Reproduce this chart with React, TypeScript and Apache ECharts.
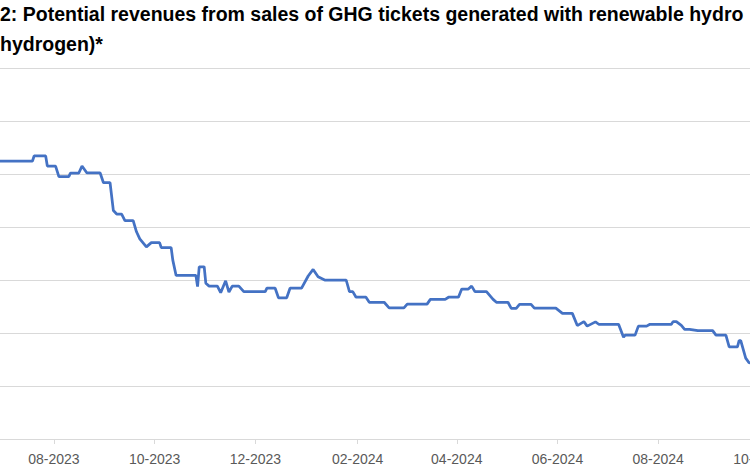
import React, { useEffect, useRef } from 'react';
import * as echarts from 'echarts';

const titleLines = [
  '2: Potential revenues from sales of GHG tickets generated with renewable hydro',
  'hydrogen)*',
];

const tickMonths = [
  '2023-08-01', '2023-10-01', '2023-12-01', '2024-02-01',
  '2024-04-01', '2024-06-01', '2024-08-01', '2024-10-01',
];

const dates = [
  '2023-06-29', '2023-07-19', '2023-07-20', '2023-07-27', '2023-07-28', '2023-08-02',
  '2023-08-04', '2023-08-10', '2023-08-11', '2023-08-16', '2023-08-18', '2023-08-21',
  '2023-08-29', '2023-08-31', '2023-09-04', '2023-09-06', '2023-09-08', '2023-09-11',
  '2023-09-13', '2023-09-18', '2023-09-20', '2023-09-22', '2023-09-26', '2023-09-29',
  '2023-10-04', '2023-10-05', '2023-10-11', '2023-10-12', '2023-10-14', '2023-10-26',
  '2023-10-27', '2023-10-28', '2023-10-31', '2023-11-01', '2023-11-03', '2023-11-08',
  '2023-11-10', '2023-11-13', '2023-11-15', '2023-11-17', '2023-11-21', '2023-11-24',
  '2023-12-07', '2023-12-08', '2023-12-13', '2023-12-15', '2023-12-20', '2023-12-22',
  '2023-12-29', '2024-01-02', '2024-01-05', '2024-01-08', '2024-01-12', '2024-01-25',
  '2024-01-27', '2024-01-29', '2024-01-31', '2024-02-06', '2024-02-08', '2024-02-17',
  '2024-02-20', '2024-02-29', '2024-03-02', '2024-03-14', '2024-03-16', '2024-03-25',
  '2024-03-27', '2024-04-02', '2024-04-04', '2024-04-08', '2024-04-10', '2024-04-12',
  '2024-04-19', '2024-04-23', '2024-04-25', '2024-05-02', '2024-05-04', '2024-05-07',
  '2024-05-09', '2024-05-16', '2024-05-18', '2024-05-31', '2024-06-04', '2024-06-10',
  '2024-06-13', '2024-06-17', '2024-06-19', '2024-06-24', '2024-06-26', '2024-07-08',
  '2024-07-11', '2024-07-12', '2024-07-18', '2024-07-20', '2024-07-25', '2024-07-27',
  '2024-08-09', '2024-08-10', '2024-08-12', '2024-08-15', '2024-08-17', '2024-08-20',
  '2024-08-25', '2024-09-03', '2024-09-05', '2024-09-11', '2024-09-13', '2024-09-18',
  '2024-09-19', '2024-09-20', '2024-09-23', '2024-09-25', '2024-09-28',
];

const values = [
  10.49, 10.49, 10.68, 10.68, 10.30, 10.30,
  9.90, 9.90, 10.03, 10.03, 10.30, 10.04,
  10.04, 9.67, 9.67, 8.62, 8.49, 8.49,
  8.24, 8.24, 7.82, 7.55, 7.25, 7.41,
  7.41, 7.22, 7.22, 6.75, 6.17, 6.17,
  5.75, 6.50, 6.50, 5.88, 5.77, 5.77,
  5.52, 5.97, 5.54, 5.77, 5.77, 5.56,
  5.56, 5.69, 5.69, 5.33, 5.33, 5.69,
  5.69, 6.15, 6.40, 6.12, 6.00, 6.00,
  5.56, 5.56, 5.35, 5.35, 5.16, 5.16,
  4.95, 4.95, 5.09, 5.09, 5.27, 5.27,
  5.35, 5.35, 5.66, 5.66, 5.77, 5.56,
  5.56, 5.27, 5.16, 5.16, 4.93, 4.93,
  5.08, 5.08, 4.94, 4.94, 4.74, 4.74,
  4.28, 4.43, 4.26, 4.42, 4.33, 4.33,
  3.84, 3.92, 3.92, 4.26, 4.26, 4.33,
  4.33, 4.43, 4.43, 4.29, 4.14, 4.14,
  4.09, 4.09, 3.92, 3.92, 3.48, 3.48,
  3.71, 3.71, 3.05, 2.88, 2.85,
];

const yMin = 0;
const yMax = 14;
const yInterval = 2;

const ts = (s: string) => {
  const [y, m, d] = s.split('-').map(Number);
  return new Date(y, m - 1, d).getTime();
};

export default function App() {
  const ref = useRef<HTMLDivElement>(null);
  useEffect(() => {
    if (!ref.current) return;
    const chart = echarts.init(ref.current, undefined, { renderer: 'svg' });
    const ticks = tickMonths.map(ts);
    chart.setOption({
      animation: false,
      backgroundColor: '#ffffff',
      graphic: [
        {
          type: 'text',
          x: 0,
          y: 4,
          style: {
            text: titleLines[0],
            font: 'bold 19.5px "Liberation Sans", Arial, sans-serif',
            fill: '#000000',
            textVerticalAlign: 'top',
          },
        },
        {
          type: 'text',
          x: 0,
          y: 34,
          style: {
            text: titleLines[1],
            font: 'bold 19.5px "Liberation Sans", Arial, sans-serif',
            fill: '#000000',
            textVerticalAlign: 'top',
          },
        },
      ],
      grid: {
        left: 0,
        right: -40,
        top: 68,
        bottom: 36,
        containLabel: false,
        outerBoundsMode: 'none',
      },
      xAxis: {
        type: 'value',
        min: new Date(2023, 5, 29, 8).getTime(),
        max: new Date(2024, 9, 19, 20).getTime(),
        axisLine: { show: true, lineStyle: { color: '#d9d9d9', width: 1 } },
        axisTick: { show: true, customValues: ticks, length: 5, lineStyle: { color: '#d9d9d9' } },
        axisLabel: {
          customValues: ticks,
          color: '#595959',
          fontFamily: '"Liberation Sans", sans-serif',
          fontSize: 14,
          margin: 13,
          hideOverlap: false,
          formatter: (v: number) => {
            const d = new Date(v);
            return String(d.getMonth() + 1).padStart(2, '0') + '-' + d.getFullYear();
          },
        },
        splitLine: { show: false },
      },
      yAxis: {
        type: 'value',
        min: yMin,
        max: yMax,
        interval: yInterval,
        axisLabel: { show: false },
        axisLine: { show: false },
        axisTick: { show: false },
        splitLine: { show: true, lineStyle: { color: '#d9d9d9', width: 1 } },
      },
      series: [
        {
          type: 'line',
          data: dates.map((d, i) => [ts(d), values[i]]),
          showSymbol: false,
          symbol: 'none',
          lineStyle: { color: '#4472C4', width: 2.75 },
          clip: true,
          silent: true,
        },
      ],
    });
    return () => chart.dispose();
  }, []);
  return (
    <div
      ref={ref}
      style={{ position: 'fixed', left: 0, top: 0, width: 750, height: 475, background: '#fff' }}
    />
  );
}
